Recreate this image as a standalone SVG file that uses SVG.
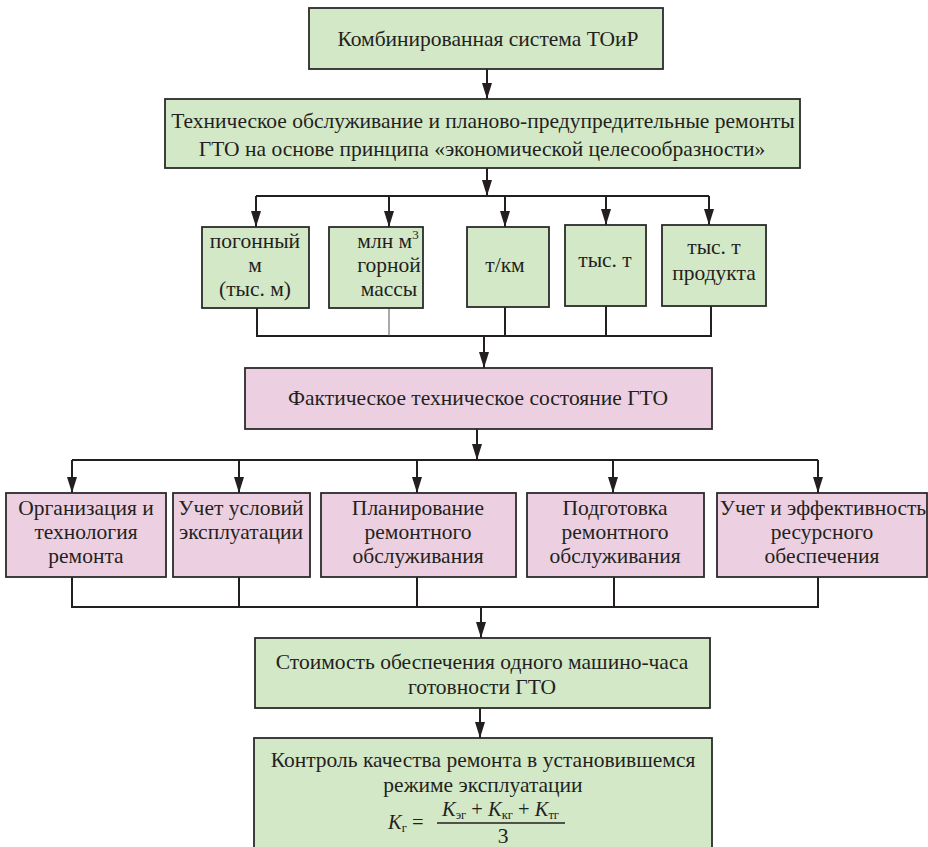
<svg xmlns="http://www.w3.org/2000/svg" width="928" height="847" viewBox="0 0 928 847">
<defs>
<marker id="ah" markerUnits="userSpaceOnUse" markerWidth="16" markerHeight="10" refX="16" refY="5" orient="auto" viewBox="0 0 16 10">
<path d="M0,0 L16,5 L0,10 z" fill="#231f20"/>
</marker>
<style>
.g{fill:#d3e8c7;stroke:#2b2b2b;stroke-width:1.8}
.p{fill:#ecd0e1;stroke:#2b2b2b;stroke-width:1.8}
.t text{font-size:21.5px;fill:#231f20;text-anchor:middle}
.t text.f{font-size:20.5px;text-anchor:start}
.c{fill:none;stroke:#231f20;stroke-width:2}
.a{fill:none;stroke:#231f20;stroke-width:2;marker-end:url(#ah)}
.thin{fill:none;stroke:#555;stroke-width:1}
</style>
</defs>
<rect width="928" height="847" fill="#ffffff"/>

<g id="connectors">
<path class="a" d="M487,69 V99"/>
<path class="a" d="M487,168 V196"/>
<path class="c" d="M256,196 H709"/>
<path class="a" d="M256,196 V227"/>
<path class="a" d="M389,196 V227"/>
<path class="a" d="M505,196 V227"/>
<path class="a" d="M606,196 V225"/>
<path class="a" d="M709,196 V225"/>
<path class="c" d="M257,308 V336 H711 V306"/>
<path class="thin" d="M389,308 V336"/>
<path class="c" d="M505,307 V336"/>
<path class="c" d="M606,306 V336"/>
<path class="a" d="M484,336 V368"/>
<path class="a" d="M477,429 V460"/>
<path class="c" d="M72,460 H818"/>
<path class="a" d="M72,460 V493"/>
<path class="a" d="M239,460 V493"/>
<path class="a" d="M417,460 V493"/>
<path class="a" d="M613,460 V493"/>
<path class="a" d="M818,460 V493"/>
<path class="c" d="M72,577 V607 H818 V577"/>
<path class="c" d="M239,577 V607"/>
<path class="c" d="M417,577 V607"/>
<path class="c" d="M614,577 V607"/>
<path class="a" d="M481,607 V638"/>
<path class="a" d="M480,708 V738"/>
</g>

<g class="t" font-family="'Liberation Serif', 'Times New Roman', serif">
<g id="n1"><rect class="g" x="309" y="8" width="354" height="61"/>
<text x="488" y="46">Комбинированная система ТОиР</text></g>

<g id="n2"><rect class="g" x="165" y="99" width="635" height="69"/>
<text x="483" y="128">Техническое обслуживание и планово-предупредительные ремонты</text>
<text x="482" y="156">ГТО на основе принципа «экономической целесообразности»</text></g>

<g id="n3"><rect class="g" x="202" y="227" width="107" height="81"/>
<text x="255" y="248">погонный</text><text x="255" y="272">м</text><text x="255" y="296">(тыс. м)</text></g>

<g id="n4"><rect class="g" x="329" y="227" width="94" height="81"/>
<text x="388" y="248">млн м<tspan dy="-9" font-size="13">3</tspan></text><text x="389" y="272">горной</text><text x="389" y="296">массы</text></g>

<g id="n5"><rect class="g" x="467" y="227" width="82" height="80"/>
<text x="505" y="272">т/км</text></g>

<g id="n6"><rect class="g" x="565" y="225" width="81" height="81"/>
<text x="605" y="267">тыс. т</text></g>

<g id="n7"><rect class="g" x="662" y="225" width="104" height="81"/>
<text x="714" y="254">тыс. т</text><text x="714" y="280">продукта</text></g>

<g id="n8"><rect class="p" x="245" y="368" width="467" height="61"/>
<text x="478" y="405">Фактическое техническое состояние ГТО</text></g>

<g id="n9"><rect class="p" x="6" y="493" width="160" height="84"/>
<text x="86" y="515">Организация и</text><text x="86" y="539">технология</text><text x="86" y="563">ремонта</text></g>

<g id="n10"><rect class="p" x="173" y="493" width="137" height="84"/>
<text x="241" y="515">Учет условий</text><text x="241" y="539">эксплуатации</text></g>

<g id="n11"><rect class="p" x="321" y="493" width="195" height="84"/>
<text x="418" y="515">Планирование</text><text x="418" y="539">ремонтного</text><text x="418" y="563">обслуживания</text></g>

<g id="n12"><rect class="p" x="527" y="493" width="177" height="84"/>
<text x="615" y="515">Подготовка</text><text x="615" y="539">ремонтного</text><text x="615" y="563">обслуживания</text></g>

<g id="n13"><rect class="p" x="717" y="493" width="210" height="84"/>
<text x="823" y="515">Учет и эффективность</text><text x="822" y="539">ресурсного</text><text x="822" y="563">обеспечения</text></g>

<g id="n14"><rect class="g" x="255" y="638" width="455" height="70"/>
<text x="482" y="669">Стоимость обеспечения одного машино-часа</text>
<text x="482" y="694">готовности ГТО</text></g>

<g id="n15"><rect class="g" x="254" y="738" width="458" height="120"/>
<text x="483" y="767">Контроль качества ремонта в установившемся</text>
<text x="483" y="792">режиме эксплуатации</text>
<text class="f" x="388" y="829"><tspan font-style="italic">K</tspan><tspan font-size="12.5" dy="3">г</tspan><tspan dy="-3"> =</tspan></text>
<text class="f" x="442" y="816"><tspan font-style="italic">K</tspan><tspan font-size="12.5" dy="3">эг</tspan><tspan dy="-3"> + </tspan><tspan font-style="italic">K</tspan><tspan font-size="12.5" dy="3">кг</tspan><tspan dy="-3"> + </tspan><tspan font-style="italic">K</tspan><tspan font-size="12.5" dy="3">тг</tspan></text>
<line x1="437" y1="823" x2="565" y2="823" stroke="#231f20" stroke-width="1.6"/>
<text x="503" y="843">3</text></g>
</g>
</svg>
